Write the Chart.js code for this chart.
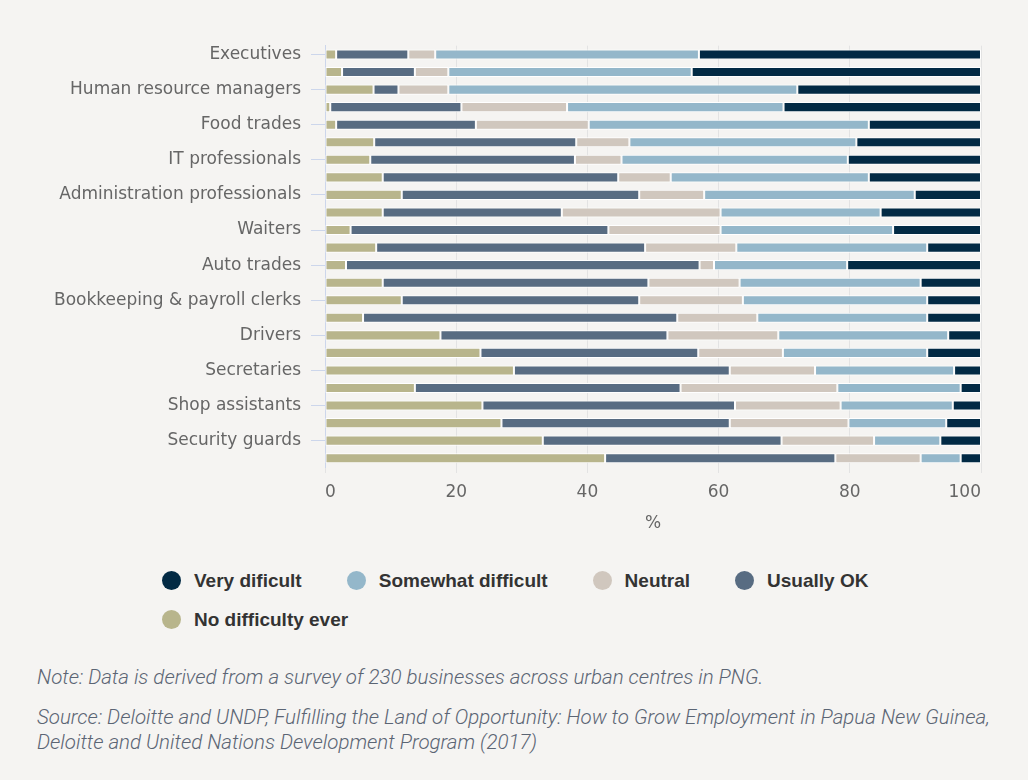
<!DOCTYPE html>
<html>
<head>
<meta charset="utf-8">
<script src="https://cdn.jsdelivr.net/npm/chart.js@4"></script>
<style>
    body {
        margin: 0;
        background: #f5f4f2;
        width: 1028px;
        height: 780px;
        position: relative;
        overflow: hidden;
    }
    .chart-box {
        position: absolute;
        left: 0;
        top: 0;
        width: 1028px;
        height: 545px;
    }
    #legend {
        position: absolute;
        left: 162px;
        top: 570px;
        width: 760px;
        display: flex;
        flex-wrap: wrap;
        column-gap: 45px;
        row-gap: 18px;
        font-family: "Liberation Sans", Arial, sans-serif;
        font-weight: bold;
        font-size: 19px;
        color: #333;
    }
    #legend .item {
        display: flex;
        align-items: center;
        height: 21px;
    }
    #legend .dot {
        width: 19px;
        height: 19px;
        border-radius: 50%;
        margin-right: 13px;
    }
    .notes {
        position: absolute;
        left: 37px;
        top: 665px;
        font-family: Roboto, sans-serif;
        font-style: italic;
        font-weight: 300;
        font-size: 20.5px;
        color: #5b6574;
        line-height: 25px;
    }
    .notes p {
        margin: 0 0 15px 0;
        white-space: nowrap;
    }
</style>
</head>
<body>
<div class="chart-box">
    <canvas id="difficultyChart" width="1028" height="545"></canvas>
</div>
<div id="legend"></div>
<div class="notes">
    <p>Note: Data is derived from a survey of 230 businesses across urban centres in PNG.</p>
    <p>Source: Deloitte and UNDP, Fulfilling the Land of Opportunity: How to Grow Employment in Papua New Guinea,<br>Deloitte and United Nations Development Program (2017)</p>
</div>

<script>
// Only every second row carries a label in the picture
const categories = [
    'Executives', '', 'Human resource managers', '', 'Food trades', '',
    'IT professionals', '', 'Administration professionals', '', 'Waiters', '',
    'Auto trades', '', 'Bookkeeping & payroll clerks', '', 'Drivers', '',
    'Secretaries', '', 'Shop assistants', '', 'Security guards', ''
];

const noDifficulty = [1.7, 2.6, 7.4, 0.8, 1.7, 7.5, 6.9, 8.8, 11.7, 8.8, 3.9, 7.8,
    3.2, 8.8, 11.7, 5.8, 17.6, 23.7, 28.8, 13.7, 24.0, 26.9, 33.2, 42.7];
const usuallyOk = [11.0, 11.1, 3.8, 20.0, 21.3, 30.8, 31.2, 35.9, 36.2, 27.3, 39.3, 41.0,
    53.9, 40.5, 36.2, 47.9, 34.6, 33.2, 32.9, 40.5, 38.5, 34.8, 36.4, 35.1];
const neutral = [4.1, 5.1, 7.6, 16.1, 17.2, 8.1, 7.1, 8.0, 9.9, 24.2, 17.1, 13.9,
    2.2, 13.9, 15.8, 12.2, 16.9, 12.9, 13.0, 23.9, 16.1, 18.1, 14.1, 13.0];
const somewhatDifficult = [40.2, 37.1, 53.2, 33.0, 42.7, 34.6, 34.5, 30.2, 32.1, 24.4, 26.3, 29.1,
    20.3, 27.6, 28.1, 25.9, 25.9, 22.0, 21.2, 18.8, 17.1, 14.9, 10.1, 6.1];
const veryDifficult = [43.0, 44.1, 28.0, 30.1, 17.1, 19.0, 20.3, 17.1, 10.1, 15.3, 13.4, 8.2,
    20.4, 9.2, 8.2, 8.2, 5.0, 8.2, 4.1, 3.1, 4.3, 5.3, 6.2, 3.1];

const xTicks = [0, 20, 40, 60, 80, 100];

const axisBlue = '#ccd6eb';
const labelFont = { family: 'DejaVu Sans', size: 17 };

const ctx = document.getElementById('difficultyChart').getContext('2d');

const data = {
    labels: categories,
    datasets: [
        { label: 'No difficulty ever', data: noDifficulty, backgroundColor: '#b8b58c' },
        { label: 'Usually OK', data: usuallyOk, backgroundColor: '#586c82' },
        { label: 'Neutral', data: neutral, backgroundColor: '#d0c7be' },
        { label: 'Somewhat difficult', data: somewhatDifficult, backgroundColor: '#94b7ca' },
        { label: 'Very dificult', data: veryDifficult, backgroundColor: '#022a44' }
    ].map(ds => Object.assign(ds, {
        borderColor: '#ffffff',
        borderWidth: 1,
        borderSkipped: false,
        categoryPercentage: 0.8,
        barPercentage: 0.72
    }))
};

const config = {
    type: 'bar',
    data: data,
    options: {
        indexAxis: 'y',
        responsive: false,
        animation: false,
        layout: {
            padding: { top: 45.7, right: 47, left: 0, bottom: 0 }
        },
        scales: {
            x: {
                stacked: true,
                min: 0,
                max: 100,
                afterBuildTicks: scale => {
                    scale.ticks = xTicks.map(v => ({ value: v }));
                },
                afterFit: scale => {
                    scale.height = 78;
                },
                grid: {
                    color: '#e3e3e3',
                    lineWidth: 1,
                    tickLength: 6,
                    tickColor: '#e3e3e3'
                },
                border: { display: false },
                ticks: {
                    color: '#666666',
                    font: labelFont,
                    padding: 9,
                    align: 'inner'
                },
                title: {
                    display: true,
                    text: '%',
                    color: '#666666',
                    font: labelFont,
                    padding: { top: 8, bottom: 11 }
                }
            },
            y: {
                stacked: true,
                afterFit: scale => {
                    scale.width = 325;
                },
                grid: {
                    offset: false,
                    drawOnChartArea: false,
                    tickLength: 14,
                    tickColor: c => (c.index % 2 === 0 ? axisBlue : 'rgba(0,0,0,0)')
                },
                border: { display: true, color: axisBlue, width: 1 },
                ticks: {
                    autoSkip: false,
                    color: '#666666',
                    font: labelFont,
                    padding: 10
                }
            }
        },
        plugins: {
            legend: { display: false },
            tooltip: { enabled: false }
        }
    }
};

const chart = new Chart(ctx, config);

// Legend built from the chart's datasets (reverse order, as in the picture)
const legendBox = document.getElementById('legend');
chart.data.datasets.slice().reverse().forEach(ds => {
    const item = document.createElement('div');
    item.className = 'item';
    item.innerHTML = `<span class="dot" style="background:${ds.backgroundColor}"></span><span>${ds.label}</span>`;
    legendBox.appendChild(item);
});
</script>
</body>
</html>
